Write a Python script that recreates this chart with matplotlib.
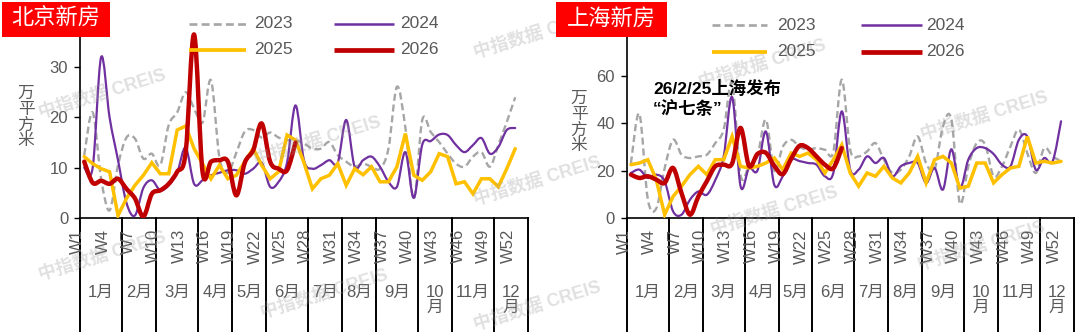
import numpy as np
import matplotlib
matplotlib.use('Agg')
import matplotlib.pyplot as plt
from matplotlib.path import Path
from matplotlib.patches import PathPatch, Rectangle
from matplotlib.lines import Line2D
import matplotlib.transforms as mtransforms

plt.rcParams['font.family'] = ['Liberation Sans', 'Noto Sans CJK SC']

# ---------------- data ----------------
years = ['2023', '2024', '2025', '2026']
n_weeks = 53
week_tick_labels = ['W1', 'W4', 'W7', 'W10', 'W13', 'W16', 'W19', 'W22', 'W25',
                    'W28', 'W31', 'W34', 'W37', 'W40', 'W43', 'W46', 'W49', 'W52']
months = ['1月', '2月', '3月', '4月', '5月', '6月', '7月', '8月', '9月', '10\n月', '11月', '12\n月']
month_weeks = [5, 4, 5, 4, 4, 5, 4, 4, 5, 4, 5, 4]

bj_yticks = [0, 10, 20, 30, 40]
bj_yticklabels = ['0', '10', '20', '30', '']
sh_yticks = [0, 20, 40, 60, 80]
sh_yticklabels = ['0', '20', '40', '60', '']

bj_2023 = [12.5, 21, 7.8, 1.5, 10.5, 16, 15.8, 11.8, 12.8, 10.5, 18.5, 21, 25, 21.8, 19, 27.4,
           12, 9, 13, 17.2, 17.5, 16, 17, 16, 15.5, 15.5, 14.8, 13.8, 13.8, 15.1, 12.5, 11.2,
           10.2, 10.8, 10.2, 9.8, 13.8, 26.1, 18, 3.8, 19.5, 17.1, 15.1, 12.8, 10.8, 10.2,
           12.2, 13.1, 10.2, 14.5, 19.1, 24]
bj_2024 = [10, 10, 32, 20, 11.5, 3, 0.5, 6, 7.5, 5.5, 6.5, 9, 14, 6.8, 7.5, 8.5,
           9, 9.5, 9.5, 8.8, 9.8, 11, 6.2, 7.2, 11, 22.4, 11.5, 9.8, 10.5, 11.5, 11, 19.5,
           10.2, 11.5, 12.2, 10.2, 7.2, 6.2, 13.1, 4, 14.6, 15.3, 16.6, 16.5, 14.5, 13.1,
           14.5, 15.9, 12.8, 14.1, 17.5, 17.9]
bj_2025 = [12.2, 10.8, 9.8, 9.2, 0.5, 3.9, 6.5, 8.5, 11, 8.8, 8.8, 17.5, 18.3, 13.8, 10.8, 7.8,
           10.5, 7.8, 8.5, 11.2, 13.8, 10.5, 7.8, 9.2, 16.5, 15.5, 11, 5.8, 7.8, 8.5, 10.8, 6.5,
           9.8, 8.6, 10.2, 7.2, 7.2, 10.2, 16.8, 8.5, 7.5, 9.2, 12.8, 12.2, 6.8, 7.2,
           4.8, 7.8, 7.8, 6.2, 9.8, 13.8]
bj_2026 = [11.2, 7, 7.4, 6.8, 7.8, 5.8, 3.9, 0.3, 4.8, 5.5, 6.8, 9.2, 13, 36.5, 9.2, 11.2,
           11.5, 11.2, 4.5, 11, 13.5, 18.8, 11.2, 9.8, 9.5, 15]

sh_2023 = [23, 44, 8, 4, 21, 33, 26.7, 25.3, 26, 26.7, 31.6, 37.3, 57, 18, 22, 26,
           41.5, 20, 30, 33, 30, 28.8, 29.5, 28.8, 28, 58.4, 28.8, 26, 28.1, 31.6, 24.6, 19,
           20.4, 26, 34.4, 23.2, 20.4, 38.7, 41.5, 6.3, 21.8, 31.6, 31, 17.6, 21.8, 30.2,
           37.3, 27.4, 19, 29.5, 26, 24]
sh_2024 = [19, 20.4, 16.9, 18.3, 15.5, 2.8, 1.4, 7.7, 11.2, 9.8, 16, 26, 51, 13.4, 21, 20,
           36.5, 14, 17.6, 24.6, 24, 23.2, 22.5, 17.6, 19, 45, 20.4, 20.4, 26, 23.2, 25.3, 17.6,
           21.8, 23.2, 23.2, 14.8, 21.1, 12, 29, 12.6, 24.6, 29.5, 29.5, 27, 22.5, 21.8,
           33, 34.4, 20.4, 25.3, 23.9, 40.8]
sh_2025 = [22.5, 23.2, 24.6, 16.2, 1.4, 9.1, 13.4, 18.3, 21.8, 18.3, 24.6, 24.6, 34.4, 21.8, 21.1, 21.8,
           23.2, 25.3, 20.4, 27.4, 26, 27.4, 24.6, 19, 24.6, 30.9, 19, 13.4, 19, 17.6, 21.8, 16.9,
           14.8, 19, 26, 14.8, 24.6, 26, 23.2, 12.6, 13.4, 23.2, 23.2, 14.8, 18.3, 21.1,
           21.8, 34.4, 23.2, 23.9, 23.2, 23.9]
sh_2026 = [18.3, 16.9, 17.6, 16.2, 14.8, 21.1, 10.5, 1.4, 9.1, 15.5, 21.8, 22.5, 23, 38, 22, 27,
           27.5, 22, 18.5, 25, 30.5, 29.5, 26, 22.5, 21, 29.5]

# ---------------- styles ----------------
W, H = 1080, 332
fig = plt.figure(figsize=(W / 100, H / 100), dpi=100)

def fx(px):
    return px / W

def fy(py):
    return 1 - py / H

TXT = '#595959'
styles = {
    '2023': dict(color='#A6A6A6', lw=1.7, ls=(0, (3.0, 1.6)), smooth=True, z=2),
    '2024': dict(color='#7030A0', lw=1.6, ls='-', smooth=True, z=3),
    '2025': dict(color='#FFC000', lw=2.5, ls='-', smooth=False, z=4),
    '2026': dict(color='#C00000', lw=3.2, ls='-', smooth=True, z=5),
}


def smooth_path(x, y):
    x = np.asarray(x, float)
    y = np.asarray(y, float)
    n = len(x)
    verts = [(x[0], y[0])]
    codes = [Path.MOVETO]
    for i in range(n - 1):
        p0 = np.array([x[i - 1], y[i - 1]]) if i > 0 else np.array([x[i], y[i]])
        p1 = np.array([x[i], y[i]])
        p2 = np.array([x[i + 1], y[i + 1]])
        p3 = np.array([x[i + 2], y[i + 2]]) if i + 2 < n else p2
        c1 = p1 + (p2 - p0) / 6.0
        c2 = p2 - (p3 - p1) / 6.0
        verts += [tuple(c1), tuple(c2), tuple(p2)]
        codes += [Path.CURVE4] * 3
    return Path(verts, codes)


def draw_panel(ax, series, yticks, yticklabels, ylab_xy):
    for name, vals in zip(years, series):
        st = styles[name]
        xs = np.arange(len(vals))
        if st['smooth']:
            p = PathPatch(smooth_path(xs, vals), fill=False, edgecolor=st['color'], lw=st['lw'],
                          linestyle=st['ls'], zorder=st['z'],
                          capstyle='butt' if name == '2023' else 'round', joinstyle='round')
            ax.add_patch(p)
        else:
            ax.plot(xs, vals, color=st['color'], lw=st['lw'], zorder=st['z'],
                    solid_joinstyle='miter', solid_capstyle='round')
    ax.set_xlim(-0.5, n_weeks - 0.5)
    ax.set_ylim(yticks[0], yticks[-1])
    ax.set_yticks(yticks)
    ax.set_yticklabels(yticklabels)
    ax.set_xticks([])
    ax.tick_params(axis='y', direction='out', length=4.5, width=1, color='black',
                   labelsize=12, labelcolor=TXT, pad=4)
    for s in ['top', 'right']:
        ax.spines[s].set_visible(False)
    for s in ['left', 'bottom']:
        ax.spines[s].set_color('black')
        ax.spines[s].set_linewidth(1.2)
    ax.patch.set_alpha(0)

    trans = mtransforms.blended_transform_factory(ax.transData, fig.transFigure)
    # month separators
    bounds = np.concatenate([[0], np.cumsum(month_weeks)]) - 0.5
    for b in bounds:
        fig.add_artist(Line2D([b, b], [fy(218), 0], transform=trans, color='black', lw=1.4,
                              clip_on=False))
    # week labels
    wtrans = mtransforms.offset_copy(trans, fig=fig, x=-6.5, y=0, units='dots')
    for lab in week_tick_labels:
        idx = int(lab[1:]) - 1
        fig.text(idx, fy(229), lab, transform=wtrans, rotation=90, ha='center', va='top',
                 fontsize=12, color=TXT)
    # month labels
    starts = np.concatenate([[0], np.cumsum(month_weeks)[:-1]])
    for m, s0, nw in zip(months, starts, month_weeks):
        fig.text(s0 + nw / 2 - 0.5, fy(285), m, transform=trans, ha='center', va='top',
                 fontsize=12, color=TXT, linespacing=1.0)
    # y label
    fig.text(fx(ylab_xy[0]), fy(ylab_xy[1]), '万\n平\n方\n米', ha='center', va='center',
             fontsize=12, color=TXT, linespacing=1.05)


ax1 = fig.add_axes([fx(80), fy(218), fx(447.9), (218 - 16.9) / H])
ax2 = fig.add_axes([fx(626.7), fy(218), fx(447), (218 - 28.4) / H])

draw_panel(ax1, [bj_2023, bj_2024, bj_2025, bj_2026], bj_yticks, bj_yticklabels, (26, 117))
draw_panel(ax2, [sh_2023, sh_2024, sh_2025, sh_2026], sh_yticks, sh_yticklabels, (579, 122))

# title boxes
for (x0, x1, title) in [(2, 110, '北京新房'), (555.5, 666.5, '上海新房')]:
    fig.add_artist(Rectangle((fx(x0), fy(37)), fx(x1 - x0), 35 / H, transform=fig.transFigure,
                             facecolor='#FF0000', edgecolor='none', zorder=20))
    fig.text(fx((x0 + x1) / 2), fy(19.5), title, ha='center', va='center', fontsize=16,
             color='white', zorder=21)

# legends
def legend(rows_y, col_line, col_text):
    order = [['2023', '2024'], ['2025', '2026']]
    for r, ypx in enumerate(rows_y):
        for c in range(2):
            name = order[r][c]
            st = styles[name]
            x0, x1 = col_line[c]
            fig.add_artist(Line2D([fx(x0), fx(x1)], [fy(ypx), fy(ypx)], transform=fig.transFigure,
                                  color=st['color'], lw=st['lw'] + 0.2, linestyle=st['ls'],
                                  solid_capstyle='butt', zorder=15))
            fig.text(fx(col_text[c]), fy(ypx), name, ha='left', va='center', fontsize=12.5,
                     color=TXT, zorder=15)

legend([24, 49.5], [(189, 246), (334, 394)], [254, 400])
legend([25, 52], [(712, 767), (861, 922)], [777, 926])

# annotation
fig.text(fx(653), fy(88), '26/2/25上海发布', ha='left', va='center', fontsize=12.5,
         fontweight='bold', color='black', zorder=16)
fig.text(fx(653), fy(109), '“沪七条”', ha='left', va='center', fontsize=12.5,
         fontweight='bold', color='black', zorder=16)

# watermarks
wm_positions = [(40, 118), (255, 165), (475, 58), (475, 205), (475, 330), (40, 280),
                (262, 318), (700, 88), (712, 235), (922, 140), (919, 270)]
for (wx, wy) in wm_positions:
    fig.text(fx(wx), fy(wy), '中指数据 CREIS', rotation=17, rotation_mode='anchor',
             ha='left', va='baseline', fontsize=13, fontweight='bold', color='#9A9A9A',
             alpha=0.3, zorder=12)

fig.savefig('out.png', dpi=100)
